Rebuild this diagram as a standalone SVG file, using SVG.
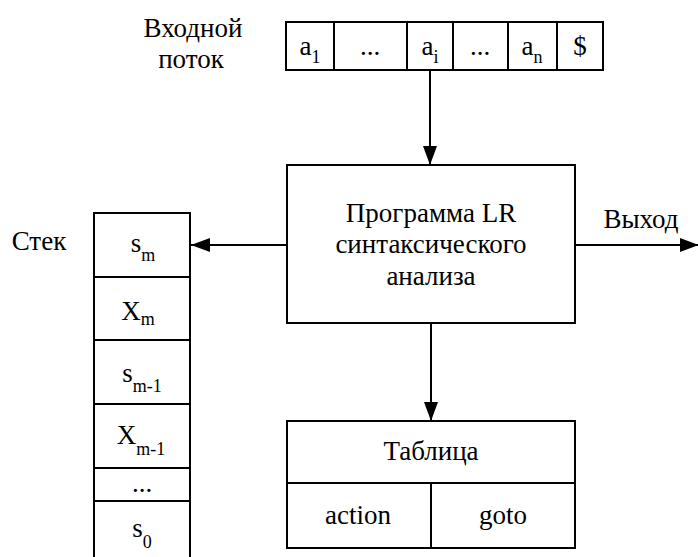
<svg xmlns="http://www.w3.org/2000/svg" width="698" height="557" viewBox="0 0 698 557">
<style>
  .box { fill: #fff; stroke: #000; stroke-width: 2; }
  .ln { fill: none; stroke: #000; stroke-width: 2; }
  text { font-family: 'Liberation Serif', 'Times New Roman', serif; font-size: 27px; fill: #000; text-anchor: middle; }
  tspan.sub { font-size: 18px; }
</style>
<defs>
  <marker id="arr" markerUnits="userSpaceOnUse" markerWidth="19" markerHeight="14" refX="19" refY="7" orient="auto">
    <path d="M0,0 L19,7 L0,14 z" fill="#000"/>
  </marker>
</defs>
<rect width="698" height="557" fill="#fff"/>

<g id="input-label">
  <text x="193" y="37">Входной</text>
  <text x="191" y="68">поток</text>
</g>

<g id="tape">
  <rect class="box" x="286" y="22" width="317" height="48"/>
  <path class="ln" d="M334,22 V70 M407,22 V70 M453,22 V70 M508,22 V70 M557,22 V70"/>
  <text x="310" y="55">a<tspan class="sub" dy="8">1</tspan></text>
  <text x="370" y="55">...</text>
  <text x="430" y="55">a<tspan class="sub" dy="8">i</tspan></text>
  <text x="480" y="55">...</text>
  <text x="532" y="55">a<tspan class="sub" dy="8">n</tspan></text>
  <text x="580" y="55">$</text>
</g>

<g id="program">
  <rect class="box" x="287" y="165" width="288" height="158"/>
  <text x="431" y="222">Программа LR</text>
  <text x="431" y="253">синтаксического</text>
  <text x="431" y="285">анализа</text>
</g>

<g id="stack-label">
  <text x="39" y="250">Стек</text>
</g>

<g id="stack">
  <path class="box" d="M94,560 V213 H190 V560"/>
  <path class="ln" d="M94,277 H190 M94,340 H190 M94,404 H190 M94,468 H190 M94,501 H190"/>
  <text x="143" y="252">s<tspan class="sub" dy="9">m</tspan></text>
  <text x="138" y="320">X<tspan class="sub" dy="5">m</tspan></text>
  <text x="142" y="382">s<tspan class="sub" dy="10">m-1</tspan></text>
  <text x="141" y="444">X<tspan class="sub" dy="11">m-1</tspan></text>
  <text x="142" y="492">...</text>
  <text x="142" y="537">s<tspan class="sub" dy="11">0</tspan></text>
</g>

<g id="output-label">
  <text x="641" y="228">Выход</text>
</g>

<g id="table">
  <rect class="box" x="287" y="421" width="288" height="127"/>
  <path class="ln" d="M287,483 H575 M431,483 V548"/>
  <text x="431" y="460">Таблица</text>
  <text x="358" y="524">action</text>
  <text x="503" y="524">goto</text>
</g>

<g id="connectors">
  <line class="ln" x1="430" y1="70" x2="430" y2="165" marker-end="url(#arr)"/>
  <line class="ln" x1="431" y1="323" x2="431" y2="421" marker-end="url(#arr)"/>
  <line class="ln" x1="287" y1="245" x2="191" y2="245" marker-end="url(#arr)"/>
  <line class="ln" x1="575" y1="245" x2="699" y2="245" marker-end="url(#arr)"/>
</g>
</svg>
